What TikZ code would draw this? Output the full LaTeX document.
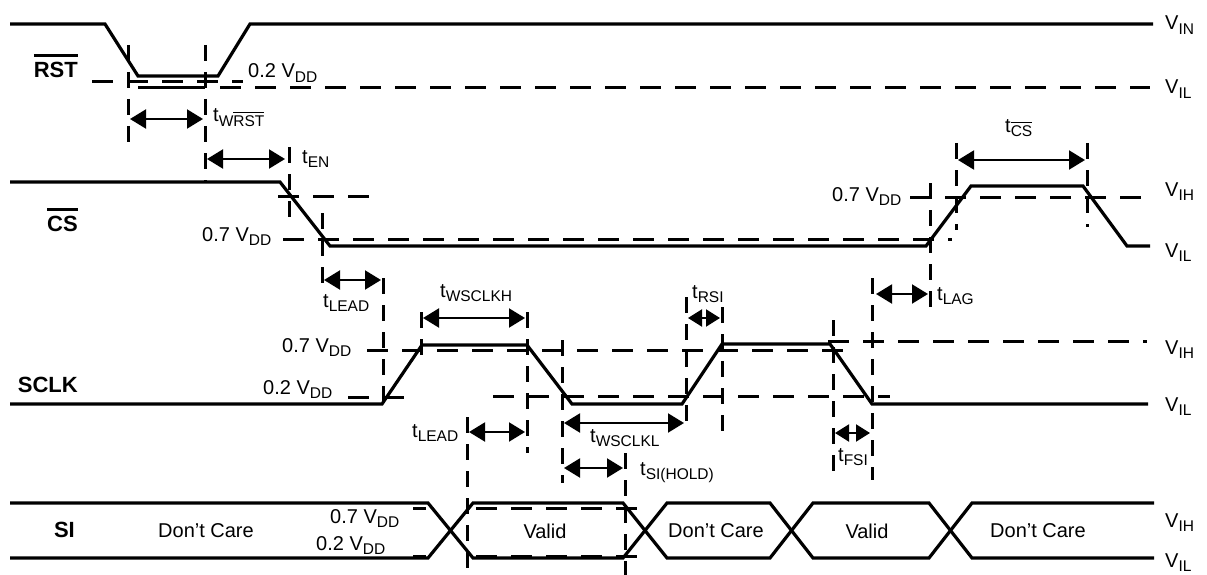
\documentclass[tikz,border=0pt]{standalone}
\usepackage{fontspec}
\setmainfont{Liberation Sans}
\usetikzlibrary{arrows.meta}
\newcommand\mysub[1]{\raisebox{-4.5pt}{\fontsize{15.5}{16}\selectfont #1}}
\newcommand\ovl[3]{\vbox{\hrule height #1\kern #2\hbox{#3}}}
\begin{document}
\begin{tikzpicture}[x=1pt,y=-1pt,
  wave/.style={line width=3.2pt},
  dsh/.style={line width=3pt, dash pattern=on 21pt off 14pt},
  vd/.style={line width=3pt, dash pattern=on 16pt off 11pt},
  dim/.style={line width=2pt, {Triangle[length=16pt,width=19pt]}-{Triangle[length=16pt,width=19pt]}},
  sdim/.style={line width=2pt, {Triangle[length=14pt,width=17pt]}-{Triangle[length=14pt,width=17pt]}},
  lbl/.style={inner sep=0pt, anchor=base west, font=\fontsize{20}{24}\selectfont},
  txt/.style={inner sep=0pt, font=\fontsize{20}{24}\selectfont},
  sig/.style={inner sep=0pt, anchor=east, font=\fontsize{22}{26}\selectfont\bfseries}]
\useasboundingbox (0,0) rectangle (1207,575);

% ---------------- RST ----------------
\draw[wave] (10,24) -- (105,24) -- (138,76) -- (218,76) -- (250,24) -- (1153,24);
\draw[dsh] (92,82) -- (243,82);
\draw[line width=3pt] (138,88) -- (205,88);
\draw[dsh] (220,88) -- (1150,88);
\draw[vd] (128,45) -- (128,146);
\draw[vd] (205,45) -- (205,182);
\draw[dim] (130,119) -- (203,119);
\draw[dim] (207,159) -- (285,159);
\draw[vd] (289,147) -- (289,227);

\node[sig] (rst) at (78,66) {\ovl{2.6pt}{5pt}{RST}};
\node[lbl] (rst02) at (248,78) {0.2 V\mysub{DD}};
\node[lbl] (twrst) at (213,122) {t\mysub{W\ovl{1.3pt}{2.5pt}{RST}}};
\node[lbl] (ten) at (302,163) {t\mysub{EN}};
\node[lbl] (vin) at (1165,30) {V\mysub{IN}};
\node[lbl] (vil1) at (1165,94) {V\mysub{IL}};

% ---------------- CS ----------------
\draw[wave] (10,182) -- (280,182) -- (330,246) -- (926,246) -- (971,186) -- (1083,186) -- (1127,246) -- (1150,246);
\draw[dsh] (278,196) -- (380,196);
\draw[dsh] (283,239) -- (952,239);
\draw[dsh] (910,197) -- (1150,197);
\draw[vd] (322,213) -- (322,290);
\draw[vd] (930,183) -- (930,307);
\draw[vd] (956,143) -- (956,230);
\draw[vd] (1087,143) -- (1087,227);
\draw[dim] (958,160) -- (1085,160);
\draw[dim] (324,280) -- (381,280);
\draw[vd] (383,278) -- (383,413);

\node[sig] (cs) at (78,220) {\ovl{2.6pt}{5.5pt}{CS}};
\node[lbl] (cs07a) at (202,241) {0.7 V\mysub{DD}};
\node[lbl] (cs07b) at (832,201) {0.7 V\mysub{DD}};
\node[lbl] (tcs) at (1005,132) {t\mysub{\ovl{1.3pt}{2.5pt}{CS}}};
\node[lbl] (tlead1) at (323,307) {t\mysub{LEAD}};
\node[lbl] (vih2) at (1165,196) {V\mysub{IH}};
\node[lbl] (vil2) at (1165,257) {V\mysub{IL}};

% ---------------- SCLK ----------------
\draw[wave] (10,404) -- (382,404) -- (422,345) -- (527,345) -- (572,404) -- (682,404) -- (722,344) -- (830,344) -- (872,404) -- (1148,404);
\draw[dsh] (367,350) -- (855,350);
\draw[dsh] (828,341) -- (1147,341);
\draw[dsh] (348,397) -- (405,397);
\draw[dsh] (493,396) -- (890,396);
\draw[vd] (421,312) -- (421,363);
\draw[vd] (527,312) -- (527,453);
\draw[vd] (467,417) -- (467,575);
\draw[vd] (562,340) -- (562,483);
\draw[vd] (686,297) -- (686,430);
\draw[vd] (722,307) -- (722,432);
\draw[vd] (625,453) -- (625,575);
\draw[vd] (833,320) -- (833,477);
\draw[vd] (872,278) -- (872,480);
\draw[dim] (423,318) -- (525,318);
\draw[sdim] (688,318) -- (720,318);
\draw[dim] (469,432) -- (525,432);
\draw[dim] (564,423) -- (684,423);
\draw[dim] (564,468) -- (623,468);
\draw[sdim] (835,433) -- (870,433);
\draw[dim] (876,294) -- (928,294);

\node[sig] (sclk) at (78,385) {SCLK};
\node[lbl] (sc07) at (282,352) {0.7 V\mysub{DD}};
\node[lbl] (sc02) at (263,394) {0.2 V\mysub{DD}};
\node[lbl] (twh) at (440,297) {t\mysub{WSCLKH}};
\node[lbl] (trsi) at (692,298) {t\mysub{RSI}};
\node[lbl] (tlead2) at (412,437) {t\mysub{LEAD}};
\node[lbl] (twl) at (590,442) {t\mysub{WSCLKL}};
\node[lbl] (thold) at (640,475) {t\mysub{SI(HOLD)}};
\node[lbl] (tlag) at (937,300) {t\mysub{LAG}};
\node[lbl] (tfsi) at (838,461) {t\mysub{FSI}};
\node[lbl] (vih3) at (1165,354) {V\mysub{IH}};
\node[lbl] (vil3) at (1165,411) {V\mysub{IL}};

% ---------------- SI ----------------
\draw[wave] (10,503) -- (428,503) -- (473,558) -- (623,558) -- (667,503) -- (770,503) -- (813,558) -- (929,558) -- (972,503) -- (1154,503);
\draw[wave] (10,558) -- (428,558) -- (473,503) -- (623,503) -- (667,558) -- (770,558) -- (813,503) -- (929,503) -- (972,558) -- (1154,558);
\draw[line width=3pt] (413,508) -- (426,508);
\draw[line width=3pt] (413,556) -- (426,556);
\draw[dsh] (476,508) -- (637,508);
\draw[dsh] (476,556) -- (637,556);

\node[sig] (si) at (75,530) {SI};
\node[txt] (dc1) at (206,531) {Don’t Care};
\node[txt] (v1) at (545,531) {Valid};
\node[txt] (dc2) at (716,531) {Don’t Care};
\node[txt] (v2) at (867,531) {Valid};
\node[txt] (dc3) at (1038,531) {Don’t Care};
\node[lbl] (si07) at (330,523) {0.7 V\mysub{DD}};
\node[lbl] (si02) at (316,550) {0.2 V\mysub{DD}};
\node[lbl] (vih4) at (1165,527) {V\mysub{IH}};
\node[lbl] (vil4) at (1165,567) {V\mysub{IL}};
\end{tikzpicture}
\end{document}
